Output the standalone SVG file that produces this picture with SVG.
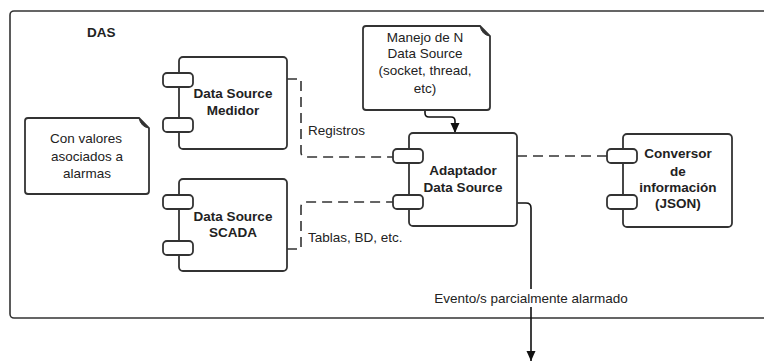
<svg xmlns="http://www.w3.org/2000/svg" width="764" height="362" viewBox="0 0 764 362">
  <defs>
    <style>
      .frame { fill: #ffffff; stroke: #333333; stroke-width: 1.6; }
      .box { fill: #ffffff; stroke: #333333; stroke-width: 1.8; }
      .port { fill: #ffffff; stroke: #333333; stroke-width: 1.8; }
      .note { fill: #ffffff; stroke: #333333; stroke-width: 1.8; }
      .fold { fill: #333333; stroke: #333333; stroke-width: 1; }
      .dash { fill: none; stroke: #333333; stroke-width: 1.6; stroke-dasharray: 10 6; }
      .solid { fill: none; stroke: #111111; stroke-width: 1.6; }
      .t { font-family: "Liberation Sans", Arial, sans-serif; font-size: 13.5px; fill: #222222; }
      .b { font-weight: bold; }
      .c { text-anchor: middle; }
    </style>
    <marker id="arrow" markerUnits="userSpaceOnUse" markerWidth="10" markerHeight="10" refX="10" refY="4.5" orient="auto">
      <path d="M0,0 L10,4.5 L0,9 Z" fill="#111111"/>
    </marker>
  </defs>

  <g id="das">
    <rect class="frame" x="10" y="11" width="765" height="307" rx="4"/>
    <text class="t b" x="87" y="37">DAS</text>
  </g>

  <g id="connectors">
    <path class="dash" d="M287 79 H301 V152 Q301 157 306 157 H393"/>
    <path class="dash" d="M287 249 H301 V207 Q301 202 306 202 H393"/>
    <path class="dash" d="M517 156 H607"/>
    <path class="solid" d="M425 110 V113 Q425 117 429 117 H451 Q455 117 455 121 V133" marker-end="url(#arrow)"/>
    <path class="solid" d="M517 203 H526 Q531 203 531 208 V361" marker-end="url(#arrow)"/>
    <rect x="430" y="289" width="203" height="18" fill="#ffffff"/>
    <text class="t c" x="531" y="303">Evento/s parcialmente alarmado</text>
    <text class="t" x="308" y="135">Registros</text>
    <text class="t" x="308" y="242">Tablas, BD, etc.</text>
  </g>

  <g id="note-alarmas">
    <path class="note" d="M28 118 H139 L149 128 V191 Q149 194 146 194 H28 Q25 194 25 191 V121 Q25 118 28 118 Z"/>
    <path class="fold" d="M139 118 L149 128 Q141 127 139 118 Z"/>
    <text class="t c" x="86" y="143">Con valores</text>
    <text class="t c" x="87" y="161">asociados a</text>
    <text class="t c" x="87" y="178">alarmas</text>
  </g>

  <g id="note-manejo">
    <path class="note" d="M366 26 H480 L490 36 V107 Q490 110 487 110 H366 Q363 110 363 107 V29 Q363 26 366 26 Z"/>
    <path class="fold" d="M480 26 L490 36 Q482 35 480 26 Z"/>
    <text class="t c" x="425" y="42">Manejo de N</text>
    <text class="t c" x="425" y="58">Data Source</text>
    <text class="t c" x="425" y="75">(socket, thread,</text>
    <text class="t c" x="425" y="93">etc)</text>
  </g>

  <g id="ds-medidor">
    <rect class="box" x="179" y="57" width="108" height="92" rx="4"/>
    <rect class="port" x="163" y="73" width="30" height="14" rx="4"/>
    <rect class="port" x="163" y="118" width="30" height="14" rx="4"/>
    <text class="t b c" x="233" y="98">Data Source</text>
    <text class="t b c" x="233" y="115">Medidor</text>
  </g>

  <g id="ds-scada">
    <rect class="box" x="179" y="179" width="108" height="92" rx="4"/>
    <rect class="port" x="163" y="195" width="30" height="14" rx="4"/>
    <rect class="port" x="163" y="241" width="30" height="14" rx="4"/>
    <text class="t b c" x="233" y="221">Data Source</text>
    <text class="t b c" x="233" y="237">SCADA</text>
  </g>

  <g id="adaptador">
    <rect class="box" x="409" y="133" width="108" height="93" rx="4"/>
    <rect class="port" x="393" y="149" width="30" height="14" rx="4"/>
    <rect class="port" x="393" y="195" width="30" height="14" rx="4"/>
    <text class="t b c" x="463" y="175">Adaptador</text>
    <text class="t b c" x="463" y="192">Data Source</text>
  </g>

  <g id="conversor">
    <rect class="box" x="623" y="134" width="109" height="93" rx="4"/>
    <rect class="port" x="607" y="149" width="30" height="14" rx="4"/>
    <rect class="port" x="607" y="195" width="30" height="14" rx="4"/>
    <text class="t b c" x="678" y="158">Conversor</text>
    <text class="t b c" x="678" y="176">de</text>
    <text class="t b c" x="678" y="192">información</text>
    <text class="t b c" x="678" y="208">(JSON)</text>
  </g>
</svg>
